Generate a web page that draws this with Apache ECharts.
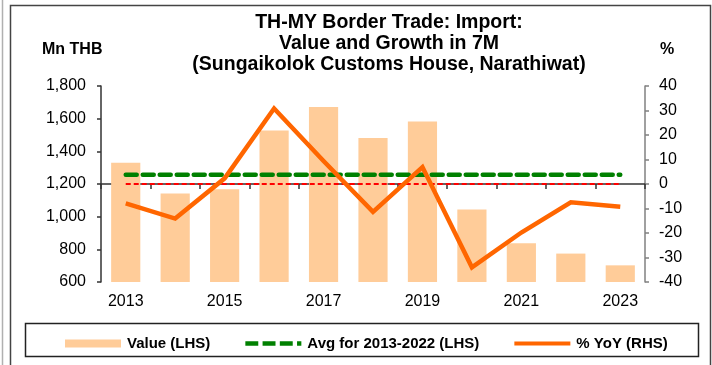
<!DOCTYPE html>
<html>
<head>
<meta charset="utf-8">
<script src="https://cdn.jsdelivr.net/npm/echarts@6/dist/echarts.min.js"></script>
<style>
  html, body { margin: 0; padding: 0; background: #fff; }
  #chart { width: 712px; height: 365px; }
</style>
</head>
<body>
<div id="chart"></div>
<script>
// Sungaikolok Customs House: TH-MY border-trade imports, first seven months of each year
const years = ['2013', '2014', '2015', '2016', '2017', '2018', '2019', '2020', '2021', '2022', '2023'];
const importValue = [1330, 1142, 1168, 1528, 1671, 1481, 1583, 1044, 837, 774, 702];      // Mn THB
const avgValue = [1256, 1256, 1256, 1256, 1256, 1256, 1256, 1256, 1256, 1256, 1256];   // 2013-2022 average, Mn THB
const yoyGrowth = [-7.9, -14.1, 2.3, 30.8, 9.4, -11.4, 6.9, -34.0, -19.8, -7.5, -9.3];     // %
const zeroRef = [0, 0, 0, 0, 0, 0, 0, 0, 0, 0, 0];                                            // 0% reference
const leftTicks = { min: 600, max: 1800, step: 200 };
const rightTicks = { min: -40, max: 40, step: 10 };

const FONT = 'Liberation Sans, Arial, sans-serif';
const chart = echarts.init(document.getElementById('chart'), null, { renderer: 'canvas' });

const fmtThousands = v => String(v).replace(/\B(?=(\d{3})+(?!\d))/g, ',');

// legend glyphs: solid bar, dashed line, solid line
const ICON_BAR = 'rect';
const ICON_DASH = 'path://M0,0h12v4h-12zM16,0h12v4h-12zM32,0h12v4h-12zM48,0h4v4h-4z';
const ICON_LINE = 'path://M0,0h56v4h-56z';

chart.setOption({
  animation: false,
  backgroundColor: '#ffffff',
  grid: { left: 101, right: 67, top: 86, bottom: 83, containLabel: false },
  xAxis: {
    type: 'category',
    data: years,
    boundaryGap: true,
    axisLine: { lineStyle: { color: '#333', width: 1.5 } },
    axisTick: { show: true, interval: 0, alignWithLabel: false, length: 5, lineStyle: { color: '#333', width: 1.5 } },
    axisLabel: { interval: 1, margin: 12, color: '#000', fontFamily: FONT, fontSize: 16 },
    splitLine: { show: false }
  },
  yAxis: [
    {
      type: 'value',
      position: 'left',
      min: leftTicks.min, max: leftTicks.max, interval: leftTicks.step,
      axisLine: { show: true, lineStyle: { color: '#333', width: 1.5 } },
      axisTick: { show: true, length: 4, lineStyle: { color: '#333', width: 1.5 } },
      axisLabel: { margin: 15, color: '#000', fontFamily: FONT, fontSize: 16, formatter: fmtThousands },
      splitLine: { show: false }
    },
    {
      type: 'value',
      position: 'right',
      min: rightTicks.min, max: rightTicks.max, interval: rightTicks.step,
      axisLine: { show: true, lineStyle: { color: '#808080', width: 1.5 } },
      axisTick: { show: true, length: 4, lineStyle: { color: '#808080', width: 1.5 } },
      axisLabel: { margin: 14, color: '#000', fontFamily: FONT, fontSize: 16 },
      splitLine: { show: false }
    }
  ],
  legend: {
    left: 60,
    top: 331,
    itemWidth: 56,
    itemHeight: 8,
    itemGap: 35,
    data: [
      { name: 'Value (LHS)', icon: ICON_BAR },
      { name: 'Avg for 2013-2022 (LHS)', icon: ICON_DASH },
      { name: '% YoY (RHS)', icon: ICON_LINE }
    ],
    textStyle: { color: '#000', fontFamily: FONT, fontSize: 15, fontWeight: 'bold', padding: [0, 0, 0, 1] }
  },
  series: [
    {
      name: 'Value (LHS)',
      type: 'bar',
      yAxisIndex: 0,
      data: importValue,
      barWidth: '59%',
      itemStyle: { color: '#FFCC99' },
      z: 1
    },
    {
      name: 'zero',
      type: 'line',
      yAxisIndex: 1,
      data: zeroRef,
      symbol: 'none',
      lineStyle: { color: '#FF0000', width: 1.8, type: [5, 3] },
      z: 2
    },
    {
      name: 'Avg for 2013-2022 (LHS)',
      type: 'line',
      yAxisIndex: 0,
      data: avgValue,
      symbol: 'none',
      itemStyle: { color: '#008000' },
      lineStyle: { color: '#008000', width: 4.5, type: [11, 6], cap: 'round' },
      z: 3
    },
    {
      name: '% YoY (RHS)',
      type: 'line',
      yAxisIndex: 1,
      data: yoyGrowth,
      symbol: 'none',
      itemStyle: { color: '#FF6600' },
      lineStyle: { color: '#FF6600', width: 4.5, join: 'miter' },
      z: 4
    }
  ],
  graphic: [
    // outer frames
    { type: 'line', shape: { x1: 2.5, y1: 0, x2: 2.5, y2: 365 }, style: { stroke: '#b0b0b0', lineWidth: 1.5 }, silent: true },
    { type: 'rect', shape: { x: 10.5, y: 5.5, width: 700, height: 380 }, style: { fill: 'none', stroke: '#444', lineWidth: 1.5 }, silent: true, z: -1 },
    // legend frame
    { type: 'rect', shape: { x: 25.5, y: 323.5, width: 673, height: 33 }, style: { fill: 'none', stroke: '#222', lineWidth: 1.5 }, silent: true },
    // chart title
    {
      type: 'text', x: 389, y: 12,
      style: {
        text: 'TH-MY Border Trade: Import:\nValue and Growth in 7M\n(Sungaikolok Customs House, Narathiwat)',
        x: 0, y: 0,
        textAlign: 'center',
        fill: '#000',
        font: 'bold 19.5px ' + FONT,
        lineHeight: 21
      }
    },
    // axis units
    { type: 'text', x: 42, y: 42, style: { text: 'Mn THB', fill: '#000', font: 'bold 16px ' + FONT } },
    { type: 'text', x: 660, y: 42, style: { text: '%', fill: '#000', font: 'bold 16px ' + FONT } }
  ]
});
</script>
</body>
</html>
